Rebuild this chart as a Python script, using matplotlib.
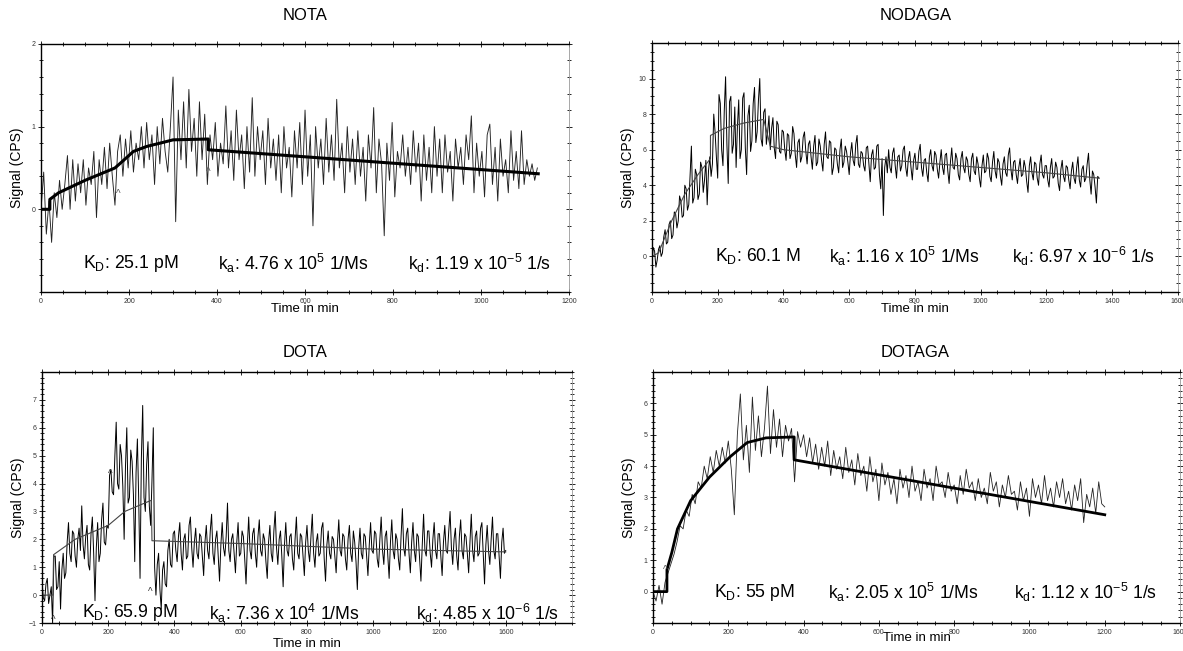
import numpy as np
import matplotlib
matplotlib.use('Agg')
import matplotlib.pyplot as plt
from matplotlib.ticker import AutoMinorLocator

plt.rcParams['font.family'] = ['Liberation Sans', 'DejaVu Sans']

# ---- NOTA: signal every 6 min ----
nota_step = 6
nota_signal = [
    0.0, 0.45, -0.3, 0.1, -0.4, 0.2, -0.1, 0.35, 0.0, 0.3,
    0.65, 0.0, 0.6, 0.1, 0.55, 0.2, 0.6, 0.05, 0.5, 0.3,
    0.7, -0.1, 0.6, 0.3, 0.75, 0.25, 0.8, 0.4, 0.05, 0.7,
    0.9, 0.4, 0.85, 0.5, 0.95, 0.45, 0.8, 0.6, 1.0, 0.5,
    1.05, 0.6, 0.9, 0.3, 1.0, 0.55, 1.1, 0.7, 0.45, 1.0,
    1.6, -0.15, 1.2, 0.6, 1.3, 0.5, 1.45, 0.7, 1.1, 0.4,
    1.3, 0.6, 1.15, 0.3, 0.9, 0.6, 1.05, 0.4, 0.8, 0.55,
    1.25, 0.5, 0.95, 0.35, 1.2, 0.6, 0.9, 0.25, 1.0, 0.45,
    1.35, 0.4, 1.0, 0.6, 0.95, 0.3, 1.1, 0.5, 0.85, 0.35,
    0.9, 0.2, 1.0, 0.5, 0.75, 0.15, 0.95, 0.5, 1.05, 0.3,
    1.2, 0.4, 0.9, -0.2, 1.0, 0.5, 0.85, 0.3, 1.1, 0.45,
    0.9, 0.35, 1.33, 0.5, 0.8, 0.2, 1.0, 0.45, 0.85, 0.3,
    0.95, 0.4, 0.75, 0.1, 0.9, 0.5, 1.23, 0.2, 0.85, 0.55,
    -0.32, 0.8, 0.35, 1.05, 0.15, 0.7, 0.5, 0.9, 0.4, 0.75,
    0.3, 0.95, 0.45, 0.8, 0.1, 0.9, 0.35, 0.75, 0.2, 1.0,
    0.4, 0.85, 0.2, 0.9, 0.45, 0.7, 0.1, 0.85, 0.5, 0.75,
    0.3, 0.9, 0.6, 1.13, 0.2, 0.8, 0.4, 0.7, 0.15, 0.9,
    1.03, 0.3, 0.75, 0.1, 0.85, 0.4, 0.6, 0.2, 0.95, 0.35,
    0.7, 0.25, 0.95, 0.3, 0.6, 0.4, 0.55, 0.35, 0.5,
]
nota_fit_t = [0, 20, 20, 40, 100, 168, 185, 210, 240, 278, 300, 380, 380, 1130]
nota_fit_y = [0, 0, 0.12, 0.2, 0.35, 0.5, 0.58, 0.7, 0.76, 0.81, 0.84, 0.85, 0.72, 0.43]

# ---- NODAGA: signal every 4 min ----
nodaga_step = 4
nodaga_signal = [
    -0.4, 0.5, 0.3, -0.6, -0.2, 0.4, 0.6, 0.0, 0.2, 1.1, 1.5, 0.7, 0.8, 1.8, 2.0, 1.0, 1.2, 2.5, 2.4, 1.6,
    2.0, 3.4, 3.1, 2.2, 2.3, 4.0, 3.8, 2.6, 2.9, 4.5, 6.2, 3.0, 3.3, 4.9, 4.6, 3.2, 3.5, 5.3, 5.0, 3.6,
    4.3, 5.4, 2.9, 4.8, 5.6, 4.5, 5.2, 8.0, 7.0, 5.6, 4.4, 9.1, 8.6, 6.0, 5.1, 8.2, 10.1, 6.3, 4.1, 8.7,
    9.0, 5.8, 6.3, 8.4, 5.0, 7.3, 8.8, 5.5, 6.0, 8.9, 9.2, 6.1, 4.6, 7.9, 8.5, 5.9, 6.5, 8.6, 9.5, 6.4,
    7.0, 8.8, 10.0, 6.6, 6.2, 8.1, 8.3, 6.3, 7.0, 7.9, 6.0, 7.2, 7.8, 6.1, 5.5, 7.6, 7.4, 5.9, 5.8, 7.1,
    7.0, 6.0, 5.4, 6.9, 6.8, 5.5, 5.8, 7.3, 6.9, 5.7, 5.0, 6.4, 6.6, 5.3, 5.6, 6.7, 7.0, 5.9, 5.2, 6.3,
    6.5, 5.6, 4.9, 6.2, 6.8, 5.1, 5.3, 6.6, 6.2, 5.4, 4.8, 6.3, 7.0, 5.6, 5.5, 6.5, 6.4, 4.6, 5.0, 6.1,
    6.0, 5.2, 4.7, 6.0, 6.6, 5.0, 5.3, 6.2, 5.9, 5.3, 4.6, 5.8, 6.4, 5.4, 5.1, 6.3, 6.8, 5.2, 5.0, 5.9,
    5.8, 5.1, 4.8, 6.1, 6.2, 5.2, 4.2, 5.7, 6.0, 4.9, 5.0, 6.2, 6.3, 4.6, 3.8, 5.5, 2.3, 5.0, 5.6, 4.7,
    6.0, 5.0, 4.7, 5.8, 6.1, 5.1, 4.4, 5.6, 5.7, 4.8, 5.1, 6.0, 6.2, 5.0, 4.5, 5.5, 5.9, 5.0, 4.3, 5.4,
    5.8, 4.9, 4.9, 5.9, 6.3, 5.0, 4.5, 5.4, 5.5, 4.7, 4.2, 5.6, 6.0, 5.1, 4.8, 5.9, 5.7, 4.9, 4.4, 5.3,
    6.0, 5.0, 4.6, 5.7, 5.8, 4.8, 4.1, 5.3, 6.1, 5.0, 4.9, 5.8, 5.5, 4.6, 4.3, 5.5, 5.9, 5.0, 4.7, 5.6,
    5.4, 4.6, 4.2, 5.5, 5.8, 4.8, 4.6, 5.6, 5.2, 4.4, 3.9, 5.1, 5.7, 4.7, 4.8, 5.8, 5.5, 4.5, 4.2, 5.3,
    5.9, 4.8, 4.4, 5.5, 5.3, 4.5, 4.0, 5.2, 5.6, 4.7, 4.5, 5.7, 6.1, 4.9, 4.3, 5.3, 5.4, 4.6, 4.1, 5.0,
    5.5, 4.5, 4.6, 5.4, 5.0, 4.2, 3.6, 5.1, 5.6, 4.7, 4.3, 5.3, 5.2, 4.4, 4.0, 5.2, 5.7, 4.6, 4.4, 5.1,
    5.1, 4.3, 3.9, 5.0, 5.5, 4.4, 4.5, 5.3, 5.0, 4.1, 3.7, 4.9, 5.4, 4.5, 4.2, 5.1, 5.0, 4.3, 3.8, 4.8,
    5.3, 4.4, 4.1, 5.0, 5.6, 4.3, 3.9, 4.9, 5.1, 4.2, 4.4, 5.2, 5.8, 4.3, 3.5, 4.8, 4.6, 3.9, 3.0, 4.5,
    4.4,
]
nodaga_fit_t = [0, 20, 60, 100, 140, 178, 178, 220, 280, 340, 360, 400, 600, 800, 1000, 1200, 1360]
nodaga_fit_y = [0, 0.2, 2.0, 3.5, 4.6, 5.5, 6.8, 7.2, 7.5, 7.7, 6.2, 6.0, 5.6, 5.3, 5.0, 4.7, 4.4]

# ---- DOTA: signal every 4 min ----
dota_step = 4
dota_signal = [
    0.5, -0.1, -0.2, 0.4, 0.6, -0.3, 0.0, 0.3, -1.0, 1.4, 1.4, 0.2, 0.3, 1.2, -0.5, 0.9, 1.5, 0.6, 0.8, 1.9,
    2.6, 1.5, 1.2, 2.3, 2.2, 1.4, 1.0, 2.0, 2.4, 1.6, 3.2, 1.8, 1.3, 2.1, 2.5, 1.1, 0.9, 2.2, 2.8, 1.5,
    -0.2, 1.7, 2.6, 1.2, 1.5, 2.7, 3.3, 1.9, 1.8, 2.5, 2.4, 4.3, 4.5, 3.7, 3.6, 5.0, 6.2, 4.0, 3.8, 5.4,
    5.0, 3.9, 2.0, 4.6, 6.0, 3.3, 3.5, 5.2, 4.8, 3.6, 1.2, 4.4, 5.6, 3.4, 0.6, 4.9, 6.8, 3.5, 3.0, 4.7,
    5.5, 3.2, 2.5, 4.1, 6.0, 1.0, 0.0, 1.1, 1.5, 0.2, -0.5, 0.9, 1.2, 0.4, 0.3, 1.6, 2.0, 1.1, 1.0, 2.2,
    2.3, 1.6, 1.2, 2.1, 2.6, 1.5, 0.9, 2.0, 2.2, 1.3, 1.4, 2.5, 2.8, 1.7, 1.0, 1.9, 2.4, 1.5, 1.3, 2.2,
    2.1, 1.4, 0.7, 1.9, 2.5, 1.6, 1.3, 2.3, 2.9, 1.5, 1.1, 2.0, 2.3, 1.4, 0.5, 1.8, 2.6, 1.7, 1.4, 2.1,
    3.3, 1.6, 1.2, 2.0, 2.2, 1.5, 0.8, 1.9, 2.6, 1.4, 1.5, 2.3, 2.1, 1.3, 0.4, 1.8, 2.8, 1.6, 1.3, 2.2,
    2.4, 1.5, 1.0, 2.1, 2.7, 1.6, 1.4, 2.2, 2.0, 1.2, 0.6, 1.9, 2.5, 1.5, 1.2, 2.3, 3.0, 1.7, 1.1, 2.0,
    2.3, 1.4, 0.3, 1.8, 2.6, 1.6, 1.4, 2.1, 2.2, 1.3, 0.9, 2.0, 2.8, 1.5, 1.3, 2.2, 2.1, 1.4, 0.7, 1.9,
    2.5, 1.6, 1.2, 2.1, 2.9, 1.5, 1.0, 1.9, 2.2, 1.4, 1.5, 2.4, 2.6, 1.3, 0.5, 1.8, 2.3, 1.5, 1.3, 2.1,
    2.0, 1.4, 0.8, 1.9, 2.7, 1.6, 1.4, 2.2, 2.1, 1.3, 0.9, 2.0, 2.5, 1.5, 1.2, 2.3, 1.9, 1.2, 0.2, 1.7,
    2.4, 1.5, 1.3, 2.2, 2.1, 1.4, 0.7, 1.8, 2.6, 1.6, 1.5, 2.3, 2.2, 1.3, 1.0, 2.0, 2.8, 1.6, 1.1, 2.1,
    2.3, 1.4, 0.6, 1.9, 2.7, 1.6, 1.3, 2.2, 2.0, 1.3, 0.9, 2.1, 3.1, 1.7, 1.4, 2.2, 2.4, 1.5, 0.8, 1.9,
    2.6, 1.6, 1.2, 2.2, 2.1, 1.3, 0.5, 1.8, 2.9, 1.6, 1.4, 2.3, 2.3, 1.5, 1.0, 2.0, 2.6, 1.6, 1.3, 2.2,
    2.2, 1.4, 0.7, 1.9, 2.5, 1.6, 1.5, 2.3, 3.0, 1.7, 1.1, 2.0, 2.4, 1.4, 0.9, 2.1, 2.7, 1.6, 1.3, 2.2,
    2.1, 1.5, 0.8, 1.9, 2.9, 1.6, 1.2, 2.1, 2.3, 1.4, 1.5, 2.4, 2.6, 1.5, 0.4, 1.8, 2.5, 1.6, 1.1, 2.0,
    2.8, 1.6, 1.3, 2.2, 2.2, 1.4, 0.6, 1.9, 2.4, 1.5, 1.6,
]
dota_fit_t = [0, 33, 35, 100, 200, 250, 330, 332, 600, 800, 1000, 1400]
dota_fit_y = [0, 0, 1.45, 2.0, 2.5, 3.0, 3.4, 1.95, 1.85, 1.75, 1.65, 1.55]

# ---- DOTAGA: signal every 8 min ----
dotaga_step = 8
dotaga_signal = [
    0.0, -0.3, 0.2, -0.4, 0.3, 0.6, 0.9, 1.2, 1.6, 2.1,
    2.0, 2.6, 2.4, 3.1, 2.8, 3.5, 3.3, 4.0, 3.6, 4.3,
    3.8, 4.5, 4.0, 4.6, 4.1, 4.8, 3.9, 2.45, 5.0, 6.3,
    4.2, 5.3, 3.8, 6.2, 4.5, 5.6, 4.3, 5.2, 6.55, 4.4,
    5.8, 4.6, 5.5, 4.3, 5.3, 4.8, 5.2, 3.5, 5.1, 4.6,
    5.0, 4.3, 4.9, 4.1, 4.7, 3.9, 4.6, 4.0, 4.8, 3.7,
    4.5, 3.9, 4.3, 3.6, 4.6, 3.8, 4.2, 3.4, 4.4, 3.7,
    4.0, 3.2, 4.3, 3.5, 3.9, 2.9, 4.1, 3.4, 3.8, 3.1,
    3.6, 2.8, 3.9, 3.3, 3.7, 3.0, 4.0, 3.2, 3.5, 2.9,
    3.9, 3.3, 3.6, 2.9, 4.0, 3.4, 3.5, 3.0, 3.8, 3.2,
    3.4, 2.8, 3.7, 3.1, 3.9, 3.3, 3.5, 2.9, 3.6, 3.0,
    3.3, 2.8, 3.8, 3.2, 3.5, 2.7, 3.4, 3.0, 3.7, 3.1,
    3.2, 2.6, 3.5, 2.9, 3.3, 2.4, 3.6, 3.0, 3.4, 2.8,
    3.7, 2.9, 3.3, 2.7, 3.5, 3.0, 3.6, 2.8, 3.2, 2.6,
    3.4, 2.9, 3.6, 2.2, 3.1, 2.7, 3.3, 2.5, 3.5, 2.8,
    2.7,
]
dotaga_fit_t = [0, 37, 37, 50, 65, 100, 150, 205, 250, 300, 375, 375, 1200]
dotaga_fit_y = [0, 0, 0.7, 1.25, 2.0, 2.9, 3.65, 4.3, 4.75, 4.9, 4.93, 4.2, 2.45]

# kinetic constants shown in each panel
kd_text = ['25.1 pM', '60.1 M', '65.9 pM', '55 pM']
ka_text = ['4.76 x 10$^\\mathregular{5}$ 1/Ms', '1.16 x 10$^\\mathregular{5}$ 1/Ms',
           '7.36 x 10$^\\mathregular{4}$ 1/Ms', '2.05 x 10$^\\mathregular{5}$ 1/Ms']
koff_text = ['1.19 x 10$^\\mathregular{-5}$ 1/s', '6.97 x 10$^\\mathregular{-6}$ 1/s',
             '4.85 x 10$^\\mathregular{-6}$ 1/s', '1.12 x 10$^\\mathregular{-5}$ 1/s']
titles = ['NOTA', 'NODAGA', 'DOTA', 'DOTAGA']

fig = plt.figure(figsize=(11.83, 6.51), dpi=100)

ax1 = fig.add_axes([0.0347, 0.5515, 0.4463, 0.381])
ax2 = fig.add_axes([0.5511, 0.5515, 0.4446, 0.3825])
ax3 = fig.add_axes([0.0355, 0.043, 0.448, 0.3856])
ax4 = fig.add_axes([0.552, 0.043, 0.4455, 0.3856])


def style(ax, xlim, ylim, yticks, ysub, xticks, xlabels, xlab_y):
    ax.set_xlim(*xlim)
    ax.set_ylim(*ylim)
    ax.set_yticks(yticks)
    ax.set_xticks(xticks)
    ax.set_xticklabels(xlabels)
    ax.xaxis.set_minor_locator(AutoMinorLocator(4))
    ax.yaxis.set_minor_locator(AutoMinorLocator(ysub))
    ax.tick_params(which='both', direction='inout', top=True, right=True,
                   width=0.6, labelsize=5, labelcolor='#333333', pad=1.5)
    ax.tick_params(which='major', length=5)
    ax.tick_params(which='minor', length=3)
    for s in ['left', 'bottom', 'top']:
        ax.spines[s].set_linewidth(1.0)
    ax.spines['right'].set_color('#999999')
    ax.spines['right'].set_linewidth(0.6)
    ax.set_ylabel('Signal (CPS)', fontsize=10)
    ax.yaxis.set_label_coords(-0.032, 0.5)
    ax.set_xlabel('Time in min', fontsize=9.5)
    ax.xaxis.set_label_coords(0.5, xlab_y)


# NOTA
t = np.arange(len(nota_signal)) * nota_step
ax1.plot(t, nota_signal, color='#222222', lw=0.65)
ax1.plot(nota_fit_t, nota_fit_y, color='black', lw=2.2)
style(ax1, (0, 1200), (-1, 2), [0, 1, 2], 5,
      range(0, 1201, 200), [str(v) for v in range(0, 1201, 200)], -0.045)

# NODAGA
t = np.arange(len(nodaga_signal)) * nodaga_step
ax2.plot(t, nodaga_signal, color='black', lw=0.7)
ax2.plot(nodaga_fit_t, nodaga_fit_y, color='#444444', lw=0.8)
style(ax2, (0, 1590), (-2, 12), [0, 2, 4, 6, 8, 10], 4,
      range(0, 1601, 200), [str(v) for v in range(0, 1601, 200)], -0.045)

# DOTA
t = np.arange(len(dota_signal)) * dota_step
ax3.plot(t, dota_signal, color='black', lw=0.7)
ax3.plot(dota_fit_t, dota_fit_y, color='#444444', lw=0.8)
style(ax3, (0, 1600), (-1, 8), [-1, 0, 1, 2, 3, 4, 5, 6, 7], 5,
      range(0, 1401, 200), ['0', '200', '400', '600', '800', '1000', '1200', '1600'], -0.058)

# DOTAGA
t = np.arange(len(dotaga_signal)) * dotaga_step
ax4.plot(t, dotaga_signal, color='#222222', lw=0.6)
ax4.plot(dotaga_fit_t, dotaga_fit_y, color='black', lw=2.0)
style(ax4, (0, 1390), (-1, 7), [0, 1, 2, 3, 4, 5, 6], 5,
      range(0, 1401, 200), ['0', '200', '400', '600', '800', '1000', '1200', '1600'], -0.036)

# injection markers
ax1.text(175, 0.18, '^', fontsize=7, ha='center', va='center', color='#555555')
ax1.text(380, 0.45, '^', fontsize=7, ha='center', va='center', color='#555555')
ax3.text(35, -0.9, '^', fontsize=7, ha='center', va='center', color='#333333')
ax3.text(327, 0.1, '^', fontsize=7, ha='center', va='center', color='#333333')
ax3.text(205, 4.35, '^', fontsize=7, ha='center', va='center', color='#333333')
ax4.text(32, 0.7, '^', fontsize=7, ha='center', va='center', color='#555555')

# kinetic annotations (x position in min, y in signal units)
ann_x = [(96, 403, 835), (191, 539, 1094), (121, 503, 1130), (163, 466, 958)]
ann_y = [-0.65, 0.0, -0.64, -0.03]
for ax, i in zip([ax1, ax2, ax3, ax4], range(4)):
    ax.text(ann_x[i][0], ann_y[i], 'K$_\\mathregular{D}$: ' + kd_text[i], fontsize=12.7, va='center')
    ax.text(ann_x[i][1], ann_y[i], 'k$_\\mathregular{a}$: ' + ka_text[i], fontsize=12.7, va='center')
    ax.text(ann_x[i][2], ann_y[i], 'k$_\\mathregular{d}$: ' + koff_text[i], fontsize=12.7, va='center')

# panel titles
fig.text(305 / 1183, 1 - 15 / 651, titles[0], fontsize=12, ha='center', va='center')
fig.text(916 / 1183, 1 - 15 / 651, titles[1], fontsize=12, ha='center', va='center')
fig.text(305 / 1183, 1 - 353 / 651, titles[2], fontsize=12, ha='center', va='center')
fig.text(915 / 1183, 1 - 353 / 651, titles[3], fontsize=12, ha='center', va='center')

plt.savefig('out.png', dpi=100)
